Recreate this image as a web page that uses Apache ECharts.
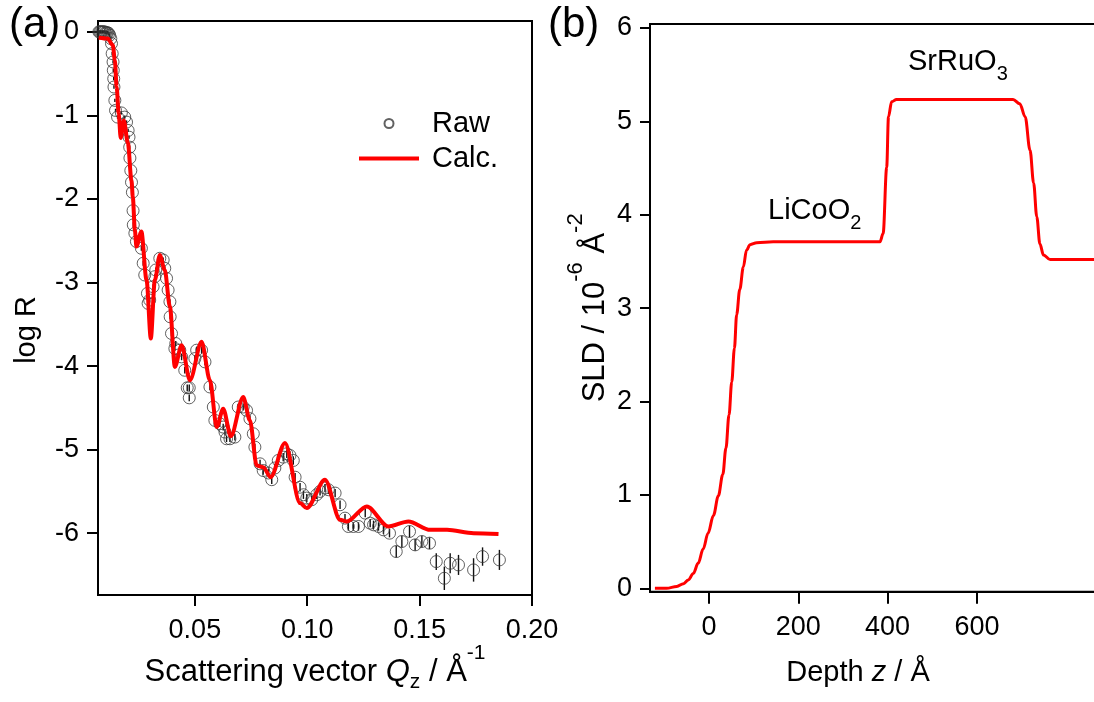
<!DOCTYPE html>
<html><head><meta charset="utf-8">
<script src="https://cdn.jsdelivr.net/npm/echarts@6/dist/echarts.min.js"></script>
<style>html,body{margin:0;padding:0;background:#fff}#c{width:1094px;height:702px}</style>
</head><body><div id="c"></div>
<script>
// ---------- Panel (a): reflectivity ----------
const rawQ = [
  0.0068,0.0073,0.0077,0.0081,0.0086,0.0090,0.0095,0.0099,0.0103,0.0108,0.0112,0.0117,0.0121,0.0126,
  0.0129,0.0132,0.0136,0.0137,0.0139,0.0140,0.0144,0.0147,0.0156,0.0173,0.0188,0.0196,0.0203,0.0207,0.0210,
  0.0211,0.0215,0.0218,0.0222,0.0225,0.0226,0.0233,0.0240,0.0262,0.0270,0.0277,0.0289,0.0292,0.0299,0.0314,0.0322,0.0326,0.0344,0.0359,0.0366,0.0374,0.0381,0.0389,0.0390,0.0396,0.0411,0.0415,
  0.0433,0.0441,0.0455,0.0466,0.0475,0.0475,0.0500,0.0508,0.0530,0.0545,0.0567,0.0582,0.0589,0.0611,0.0626,0.0634,0.0641,0.0656,0.0678,0.0693,0.0715,0.0730,0.0745,0.0760,0.0767,
  0.0790,0.0804,0.0827,0.0842,0.0856,0.0871,0.0893,0.0909,0.0923,0.0938,0.0946,0.0968,0.0983,0.0998,0.1020,0.1042,0.1057,0.1079,0.1094,0.1124,0.1146,0.1168,0.1183,0.1205,0.1228,0.1258,0.1280,0.1295,0.1317,0.1339,0.1366,
  0.1396,0.1421,0.1455,0.1480,0.1510,0.1544,
  0.1574,0.1610,0.1636,0.1673,0.1740,0.1780,0.1855
];
const rawLogR = [
  0.00,0.00,0.00,0.00,0.00,0.00,0.00,0.00,-0.01,-0.01,-0.01,-0.02,-0.04,-0.08,
  -0.14,-0.26,-0.36,-0.46,-0.56,-0.66,-0.82,-0.94,-1.02,-0.97,-1.02,-1.08,-1.18,-1.26,-1.38,
  -1.51,-1.66,-1.80,-1.92,-2.14,-2.31,-2.41,-2.51,-2.59,-2.77,-2.91,-3.13,-3.25,-3.21,-3.05,-2.93,-2.85,-2.71,-2.73,-2.83,-2.95,-3.09,-3.23,-3.41,-3.61,-3.79,-3.73,
  -3.81,-3.89,-4.05,-4.26,-4.26,-4.38,-3.91,-3.81,-3.81,-3.95,-4.25,-4.49,-4.65,-4.69,-4.73,-4.79,-4.87,-4.87,-4.85,-4.49,-4.49,-4.53,-4.63,-4.81,-4.97,
  -5.17,-5.25,-5.28,-5.36,-5.22,-5.13,-5.09,-5.05,-5.07,-5.13,-5.33,-5.45,-5.54,-5.58,-5.60,-5.54,-5.50,-5.46,-5.48,-5.52,-5.66,-5.82,-5.92,-5.92,-5.92,-5.76,-5.88,-5.90,-5.92,-5.96,-6.00,
  -6.22,-6.10,-5.98,-6.14,-6.10,-6.12,
  -6.34,-6.54,-6.36,-6.38,-6.44,-6.28,-6.32
];
const rawErr = [
  0.02,0.02,0.02,0.02,0.02,0.02,0.02,0.02,0.02,0.02,0.02,0.02,0.02,0.02,
  0.02,0.02,0.02,0.02,0.02,0.02,0.02,0.02,0.02,0.02,0.02,0.02,0.02,0.02,0.02,
  0.03,0.03,0.03,0.03,0.03,0.03,0.03,0.03,0.03,0.03,0.03,0.03,0.03,0.03,0.03,0.03,0.03,0.03,0.03,0.03,0.03,0.03,0.03,0.03,0.03,0.03,0.03,
  0.04,0.04,0.04,0.04,0.04,0.04,0.04,0.04,0.04,0.04,0.04,0.04,0.04,0.04,0.04,0.04,0.04,0.04,0.04,0.04,0.04,0.04,0.04,0.04,0.04,
  0.05,0.05,0.05,0.05,0.05,0.05,0.05,0.05,0.05,0.05,0.05,0.05,0.05,0.05,0.05,0.05,0.05,0.05,0.05,0.05,0.05,0.05,0.05,0.05,0.05,0.05,0.05,0.05,0.05,0.05,0.05,
  0.07,0.07,0.07,0.07,0.07,0.07,
  0.10,0.14,0.12,0.12,0.14,0.11,0.12
];
const calcQ = [0.0072,0.0112,0.0135,0.0144,0.0152,0.0161,0.0170,0.0184,0.0202,0.0218,0.0224,0.0233,0.0240,0.0262,0.0285,0.0304,0.0322,0.0344,0.0366,0.0389,0.0411,0.0441,0.0478,0.0530,0.0567,0.0597,0.0626,0.0660,0.0715,0.0745,0.0775,0.0804,0.0837,0.0901,0.0968,0.0998,0.1079,0.1146,0.1176,0.1265,0.1361,0.1450,0.1547,0.1622,0.1740,0.1851];
const calcLogR = [-0.07,-0.08,-0.16,-0.34,-0.66,-0.98,-1.27,-1.06,-1.33,-1.78,-1.98,-2.37,-2.57,-2.39,-2.97,-3.67,-2.97,-2.67,-2.85,-3.29,-4.01,-3.75,-4.17,-3.71,-4.17,-4.73,-4.51,-4.84,-4.37,-4.65,-5.19,-5.21,-5.33,-4.92,-5.64,-5.70,-5.36,-5.84,-5.86,-5.68,-5.92,-5.86,-5.96,-5.96,-6.00,-6.01];
const qTicks = [0.05, 0.10, 0.15, 0.20];
const logRTicks = [0, -1, -2, -3, -4, -5, -6];

// ---------- Panel (b): SLD profile ----------
const depthZ = [-121,-95,-72,-57,-46,-35,-24,-13,-2,10,21,31,38,45,51,57,62,69,77,84,92,107,144,383,390,398,402,409,420,681,696,708,719,727,734,741,749,764,790,898];
const sld = [0,0,0.02,0.05,0.09,0.16,0.27,0.42,0.59,0.78,0.99,1.22,1.50,1.86,2.21,2.57,2.93,3.20,3.44,3.62,3.68,3.70,3.71,3.71,3.80,4.51,5.05,5.21,5.235,5.235,5.19,5.05,4.69,4.34,3.98,3.69,3.57,3.52,3.52,3.52];
const zTicks = [0, 200, 400, 600];
const sldTicks = [0, 1, 2, 3, 4, 5, 6];

const FF = "'Liberation Sans', Arial, Helvetica, sans-serif";
const BLACK = '#000';
const lineStyleAx = {color: BLACK, width: 2};

function valAxis(extra) {
  return Object.assign({
    type: 'value',
    splitLine: {show: false},
    nameMoveOverlap: false,
    axisLine: {show: true, onZero: false, lineStyle: lineStyleAx}
  }, extra);
}

const option = {
  animation: false,
  backgroundColor: '#fff',
  textStyle: {fontFamily: FF},
  grid: [
    {left: 98, top: 21, width: 434, height: 574, show: true, borderColor: BLACK, borderWidth: 2, outerBoundsMode: 'none'},
    {left: 650, top: 24, width: 460, height: 567.7, show: true, borderColor: BLACK, borderWidth: 2, outerBoundsMode: 'none'}
  ],
  xAxis: [
    valAxis({
      gridIndex: 0, min: 0.0069, max: 0.2,
      axisTick: {show: true, length: 11, customValues: qTicks, lineStyle: lineStyleAx},
      axisLabel: {customValues: qTicks, formatter: v => v.toFixed(2), color: BLACK, fontFamily: FF, fontSize: 27, margin: 22},
      name: '{t|Scattering vector }{i|Q}{b|z}{t| / Å}{p|-1}',
      nameLocation: 'middle', nameGap: 47,
      nameTextStyle: {
        rich: {
          t: {fontSize: 31, fontFamily: FF, color: BLACK, lineHeight: 60},
          i: {fontSize: 31, fontFamily: FF, color: BLACK, lineHeight: 60, fontStyle: 'italic'},
          b: {fontSize: 21, fontFamily: FF, color: BLACK, verticalAlign: 'bottom', height: 40},
          p: {fontSize: 21, fontFamily: FF, color: BLACK, verticalAlign: 'top', height: 22}
        }
      }
    }),
    valAxis({
      gridIndex: 1, min: -132, max: 898,
      axisTick: {show: true, length: 12, customValues: zTicks, lineStyle: lineStyleAx},
      axisLabel: {customValues: zTicks, formatter: v => String(v), color: BLACK, fontFamily: FF, fontSize: 27, margin: 22},
      name: '{t|Depth }{i|z}{t| / Å}',
      nameLocation: 'middle', nameGap: 66,
      nameTextStyle: {
        padding: [0, 44, 0, 0],
        rich: {
          t: {fontSize: 29, fontFamily: FF, color: BLACK, lineHeight: 30},
          i: {fontSize: 29, fontFamily: FF, color: BLACK, lineHeight: 30, fontStyle: 'italic'}
        }
      }
    })
  ],
  yAxis: [
    valAxis({
      gridIndex: 0, min: -6.74, max: 0.13,
      axisTick: {show: true, length: 11, customValues: logRTicks, lineStyle: lineStyleAx},
      axisLabel: {customValues: logRTicks, formatter: v => (v === 0 ? '0' : String(v)), color: BLACK, fontFamily: FF, fontSize: 27, margin: 19},
      name: 'log R', nameLocation: 'middle', nameGap: 56,
      nameTextStyle: {fontSize: 29, fontFamily: FF, color: BLACK, lineHeight: 30, padding: [0, 44, 0, 0]}
    }),
    valAxis({
      gridIndex: 1, min: -0.036, max: 6.043,
      axisTick: {show: true, length: 10, customValues: sldTicks, lineStyle: lineStyleAx},
      axisLabel: {customValues: sldTicks, formatter: v => String(v), color: BLACK, fontFamily: FF, fontSize: 27, margin: 18},
      name: '{t|SLD / 10}{p|-6}{t| Å}{p|-2}', nameLocation: 'middle', nameGap: 25,
      nameTextStyle: {
        rich: {
          t: {fontSize: 31, fontFamily: FF, color: BLACK, lineHeight: 60},
          p: {fontSize: 22, fontFamily: FF, color: BLACK, verticalAlign: 'top', height: 22}
        }
      }
    })
  ],
  legend: {
    data: [{name: 'Raw'}, {name: 'Calc.', icon: 'path://M0,0H60V4H0Z'}],
    left: 354, top: 104, orient: 'vertical',
    itemWidth: 60, itemHeight: 9, itemGap: 6,
    selectedMode: false,
    textStyle: {fontSize: 29, fontFamily: FF, color: BLACK, lineHeight: 29, padding: [0, 0, 0, 8]}
  },
  graphic: [
    {type: 'text', left: 9, top: 4, style: {text: '(a)', fontSize: 42, fontFamily: FF, fill: BLACK}},
    {type: 'text', left: 548, top: 4, style: {text: '(b)', fontSize: 42, fontFamily: FF, fill: BLACK}},
    {type: 'text', x: 768, y: 211, style: {
      text: '{t|LiCoO}{s|2}', verticalAlign: 'middle',
      rich: {t: {fontSize: 29, fontFamily: FF, fill: BLACK, lineHeight: 50}, s: {fontSize: 20, fontFamily: FF, fill: BLACK, verticalAlign: 'bottom', height: 26}}
    }},
    {type: 'text', x: 908, y: 62, style: {
      text: '{t|SrRuO}{s|3}', verticalAlign: 'middle',
      rich: {t: {fontSize: 29, fontFamily: FF, fill: BLACK, lineHeight: 50}, s: {fontSize: 20, fontFamily: FF, fill: BLACK, verticalAlign: 'bottom', height: 26}}
    }}
  ],
  series: [
    {
      name: 'err', type: 'custom', xAxisIndex: 0, yAxisIndex: 0, z: 1,
      data: rawQ.map((q, i) => [q, rawLogR[i], rawErr[i]]),
      encode: {x: 0, y: 1},
      renderItem: (params, api) => {
        const x = api.value(0), y = api.value(1), e = api.value(2);
        const a = api.coord([x, y + e]), b = api.coord([x, y - e]);
        return {type: 'line', shape: {x1: a[0], y1: a[1], x2: b[0], y2: b[1]}, style: {stroke: '#111', lineWidth: 1.4}};
      }
    },
    {
      name: 'Raw', type: 'scatter', xAxisIndex: 0, yAxisIndex: 0, z: 2,
      symbol: 'circle', symbolSize: 12,
      itemStyle: {color: 'rgba(255,255,255,0)', borderColor: '#3a3a3a', borderWidth: 1},
      data: rawQ.map((q, i) => [q, rawLogR[i]])
    },
    {
      name: 'Calc.', type: 'line', xAxisIndex: 0, yAxisIndex: 0, z: 3,
      symbol: 'none', smooth: 0.3, smoothMonotone: 'x',
      lineStyle: {color: '#f00', width: 4},
      itemStyle: {color: '#f00'},
      data: calcQ.map((q, i) => [q, calcLogR[i]])
    },
    {
      name: 'SLD', type: 'line', xAxisIndex: 1, yAxisIndex: 1, z: 3,
      symbol: 'none', smooth: 0.35, smoothMonotone: 'x',
      lineStyle: {color: '#f00', width: 3},
      data: depthZ.map((z, i) => [z, sld[i]])
    }
  ]
};

const chart = echarts.init(document.getElementById('c'), null, {renderer: 'canvas'});
chart.setOption(option);
</script>
</body></html>
